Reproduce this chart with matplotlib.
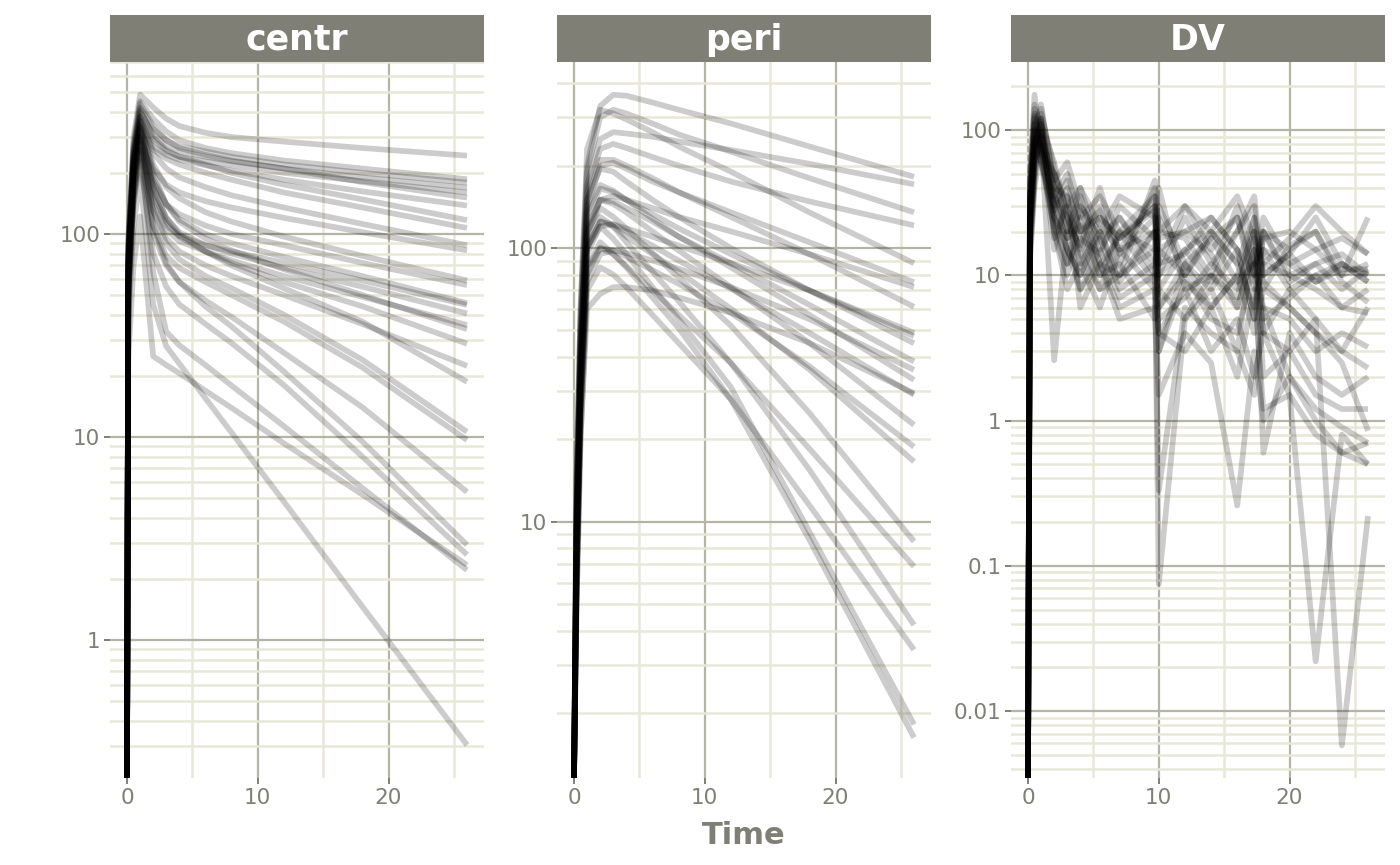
import numpy as np
import matplotlib.pyplot as plt
from matplotlib.ticker import FixedLocator, FuncFormatter, NullFormatter

# ---- data ----
centr_time = [0, 0.1, 0.5, 1, 2, 3, 4, 6, 8, 12, 18, 26]
centr_lines = [
    [0, 95, 300, 486, 420, 370, 340, 315, 300, 285, 265, 243],
    [0, 90, 280, 450, 370, 320, 290, 265, 250, 230, 210, 186],
    [0, 85, 260, 420, 330, 290, 270, 255, 240, 220, 200, 179],
    [0, 80, 250, 400, 310, 270, 255, 240, 228, 210, 190, 169],
    [0, 75, 240, 380, 290, 255, 240, 228, 218, 200, 182, 160],
    [0, 88, 270, 440, 340, 290, 265, 245, 230, 210, 180, 151],
    [0, 72, 230, 360, 270, 245, 232, 218, 205, 185, 162, 138],
    [0, 82, 250, 410, 300, 260, 240, 220, 200, 175, 148, 117],
    [0, 70, 220, 350, 260, 235, 220, 200, 185, 160, 135, 107],
    [0, 75, 240, 380, 250, 210, 190, 170, 155, 135, 112, 88],
    [0, 68, 220, 340, 210, 175, 160, 145, 135, 120, 102, 83],
    [0, 74, 230, 370, 220, 170, 150, 128, 115, 97, 78, 59],
    [0, 64, 200, 320, 180, 140, 125, 110, 100, 88, 72, 56],
    [0, 68, 210, 340, 190, 140, 118, 100, 90, 77, 62, 45.6],
    [0, 60, 190, 300, 150, 110, 98, 88, 82, 72, 59, 44.7],
    [0, 66, 200, 330, 170, 120, 102, 88, 80, 68, 55, 40.6],
    [0, 58, 180, 290, 140, 105, 92, 82, 74, 62, 49, 35.6],
    [0, 72, 220, 360, 200, 140, 115, 95, 83, 67, 50, 34],
    [0, 62, 190, 310, 160, 115, 97, 82, 72, 58, 44, 28.8],
    [0, 56, 170, 280, 130, 95, 82, 70, 62, 50, 36, 22.4],
    [0, 66, 200, 330, 170, 120, 100, 82, 70, 54, 37, 18.7],
    [0, 60, 180, 300, 130, 90, 75, 62, 54, 40, 24, 10.6],
    [0, 52, 160, 260, 110, 78, 68, 58, 50, 37, 22, 9.66],
    [0, 50, 150, 250, 100, 70, 58, 47, 39, 26, 14, 5.36],
    [0, 56, 170, 280, 110, 72, 58, 44, 35, 21, 9.5, 2.94],
    [0, 46, 140, 230, 80, 55, 45, 36, 29, 18, 8, 2.63],
    [0, 24, 70, 122, 25, 22.6, 20.6, 16.9, 13.9, 9.3, 5.2, 2.34],
    [0, 52, 150, 260, 65, 33, 28.3, 22.6, 17.9, 11.3, 5.6, 2.21],
    [0, 38, 110, 190, 45, 28, 23, 15.5, 10.5, 4.8, 1.46, 0.304],
]

peri_time = [0, 0.2, 0.5, 1, 2, 3, 4, 6, 8, 12, 18, 26]
peri_lines = [
    [0, 15, 60, 200, 330, 363, 360, 340, 320, 285, 235, 182],
    [0, 12, 50, 170, 250, 265, 262, 255, 245, 228, 203, 171],
    [0, 14, 55, 190, 300, 320, 310, 285, 260, 225, 180, 135],
    [0, 11, 45, 160, 230, 240, 232, 215, 200, 175, 148, 121],
    [0, 15, 60, 230, 320, 310, 295, 265, 235, 190, 135, 88],
    [0, 10, 40, 140, 200, 205, 195, 175, 160, 135, 105, 75],
    [0, 9, 35, 110, 150, 155, 150, 140, 130, 115, 95, 72],
    [0, 11, 45, 150, 210, 210, 200, 180, 160, 130, 95, 61],
    [0, 10, 40, 130, 165, 160, 150, 133, 118, 95, 70, 49],
    [0, 7, 30, 95, 120, 122, 118, 110, 102, 88, 70, 47.7],
    [0, 11, 45, 150, 195, 190, 175, 150, 130, 100, 70, 44.9],
    [0, 9, 35, 115, 150, 148, 140, 125, 110, 88, 62, 38.5],
    [0, 6, 25, 75, 95, 98, 96, 90, 84, 72, 55, 35.9],
    [0, 10, 40, 135, 170, 162, 150, 128, 110, 85, 57, 33],
    [0, 5, 20, 60, 68, 72, 72, 70, 66, 58, 45, 29.5],
    [0, 7, 30, 100, 125, 122, 115, 102, 90, 71, 49, 29.1],
    [0, 9, 35, 120, 150, 145, 135, 115, 98, 72, 45, 22.6],
    [0, 6, 25, 80, 100, 98, 93, 83, 74, 58, 37, 18.8],
    [0, 7, 30, 100, 125, 120, 110, 95, 82, 60, 36, 16.6],
    [0, 9, 35, 115, 140, 130, 118, 96, 78, 52, 25, 8.48],
    [0, 6, 25, 85, 100, 95, 86, 70, 57, 38, 18.5, 6.87],
    [0, 7, 30, 105, 130, 120, 105, 82, 64, 38, 15.5, 4.2],
    [0, 5, 20, 70, 85, 80, 72, 57, 45, 28, 11.5, 3.41],
    [0, 7, 30, 100, 120, 108, 95, 72, 55, 31, 9.2, 1.82],
    [0, 6, 25, 85, 105, 95, 85, 66, 51, 28, 8.6, 1.63],
]

dv_time = [0, 0.15, 0.5, 1, 2, 3, 4, 5.5, 7, 9.7, 10, 12, 14, 16, 17.3, 18, 20, 22, 24, 26]
dv_lines = [
    [0, 35, 120, 60, 30, 45, 20, 25, 18, 30, 8, 15, 20, 12, 25, 10, 14, 9, 12, 10],
    [0, 25, 90, 150, 40, 20, 35, 12, 10, 20, 3, 12, 8, 15, 5, 20, 10, 12, 8, 11],
    [0, 18, 60, 100, 25, 15, 10, 18, 25, 12, 0.075, 5, 10, 6, 15, 4, 8, 5, 3, 6],
    [0, 50, 175, 80, 50, 30, 40, 22, 15, 35, 10, 25, 12, 20, 30, 8, 16, 20, 10, 25],
    [0, 20, 70, 120, 20, 8, 12, 6, 15, 8, 0.33, 6, 4, 3, 1.5, 6, 2, 1.2, 0.9, 0.7],
    [0, 30, 100, 70, 35, 50, 25, 35, 20, 15, 25, 10, 18, 9, 12, 15, 8, 10, 12, 9],
    [0, 15, 50, 90, 2.6, 20, 8, 15, 7, 10, 4, 8, 3, 5, 2, 4, 1.5, 0.022, 0.8, 0.5],
    [0, 24, 80, 110, 60, 25, 15, 30, 12, 40, 15, 20, 25, 15, 10, 25, 12, 15, 18, 14],
    [0, 38, 130, 90, 30, 18, 22, 10, 20, 9, 30, 12, 6, 10, 20, 5, 7, 10, 6, 8],
    [0, 12, 40, 80, 15, 35, 6, 12, 5, 6, 1.5, 4, 2.5, 0.26, 3, 1, 2, 1, 0.6, 0.5],
    [0, 32, 110, 140, 45, 60, 30, 20, 35, 25, 12, 30, 15, 25, 8, 18, 20, 15, 10, 12],
    [0, 25, 85, 60, 25, 12, 18, 8, 10, 15, 6, 10, 5, 4, 12, 6, 5, 3, 4, 3.2],
    [0, 20, 65, 130, 55, 20, 40, 15, 25, 10, 20, 18, 10, 30, 12, 20, 9, 12, 14, 10],
    [0, 45, 150, 100, 35, 25, 12, 20, 9, 20, 5, 7, 12, 8, 20, 4, 3, 5, 0.0058, 0.22],
    [0, 28, 95, 75, 20, 10, 25, 10, 12, 5, 15, 10, 20, 12, 6, 12, 10, 8, 6, 5.5],
    [0, 16, 55, 95, 40, 15, 8, 12, 18, 30, 8, 5, 8, 3, 18, 2, 3, 1.5, 1.2, 1.2],
    [0, 36, 125, 85, 28, 40, 20, 28, 15, 20, 10, 15, 9, 20, 35, 10, 14, 25, 12, 9],
    [0, 22, 75, 115, 18, 30, 14, 8, 20, 35, 3, 9, 6, 10, 4, 8, 6, 4, 3, 2.3],
    [0, 30, 100, 60, 22, 12, 30, 18, 8, 12, 18, 20, 14, 6, 15, 0.6, 4, 2, 1.5, 2],
    [0, 14, 45, 110, 35, 22, 16, 40, 14, 25, 6, 12, 18, 25, 10, 20, 15, 20, 9, 6.5],
    [0, 40, 140, 70, 50, 28, 18, 14, 30, 18, 40, 8, 10, 7, 25, 9, 6, 4, 2.5, 0.85],
    [0, 24, 80, 120, 30, 15, 10, 20, 10, 45, 20, 30, 20, 35, 18, 12, 18, 30, 20, 14],
    [0, 18, 60, 90, 25, 18, 28, 12, 6, 8, 4, 3, 6, 2, 8, 1.2, 1.5, 0.8, 0.6, 0.7],
    [0, 32, 110, 80, 40, 35, 12, 25, 18, 28, 12, 14, 25, 15, 5, 15, 12, 9, 11, 11],
]

panels = ["centr", "peri", "DV"]
y_breaks = [[1, 10, 100], [10, 100], [0.01, 0.1, 1, 10, 100]]
y_limits = [(0.209, 703), (1.16, 478), (0.00346, 294)]

# ---- style ----
txt_col = "#7f7f75"
major_col = "#b5b5a7"
minor_col = "#e8e8d9"

fig = plt.figure(figsize=(14, 8.65), dpi=100)
W, H = 1400, 865
lefts = [110, 557, 1011]
pw = 374
top, bottom = 62, 778

minor_y = [m * 10.0 ** k for k in range(-4, 4) for m in range(2, 10)]

data = [(centr_time, centr_lines), (peri_time, peri_lines), (dv_time, dv_lines)]

for i, name in enumerate(panels):
    ax = fig.add_axes([lefts[i] / W, (H - bottom) / H, pw / W, (bottom - top) / H])
    ax.set_yscale("log")
    lo, hi = y_limits[i]
    t, lines = data[i]
    for vals in lines:
        v = np.asarray(vals, dtype=float)
        # zero on a log axis sits on the panel floor (like ggplot's -Inf)
        v = np.where(v > 0, v, lo)
        ax.plot(t, v, color="black", alpha=0.2, lw=4.1,
                solid_joinstyle="round", solid_capstyle="butt")
    ax.set_xlim(-1.3, 27.3)
    ax.set_ylim(lo, hi)

    ax.xaxis.set_major_locator(FixedLocator([0, 10, 20]))
    ax.xaxis.set_minor_locator(FixedLocator([5, 15, 25]))
    ax.yaxis.set_major_locator(FixedLocator(y_breaks[i]))
    ax.yaxis.set_minor_locator(FixedLocator(minor_y))
    ax.yaxis.set_major_formatter(FuncFormatter(lambda val, _: f"{val:g}"))
    ax.yaxis.set_minor_formatter(NullFormatter())

    ax.grid(which="major", color=major_col, lw=1.6)
    ax.grid(which="minor", color=minor_col, lw=1.8)
    ax.set_axisbelow(True)
    for s in ax.spines.values():
        s.set_visible(False)
    ax.tick_params(which="major", length=4, width=1.4, color=txt_col,
                   labelcolor=txt_col, labelsize=15.5, pad=3)
    ax.tick_params(which="minor", length=0)

    # facet strip
    sax = fig.add_axes([lefts[i] / W, (H - top) / H, pw / W, 47 / H])
    sax.set_facecolor(txt_col)
    sax.set_xticks([])
    sax.set_yticks([])
    for s in sax.spines.values():
        s.set_visible(False)
    sax.text(0.5, 0.47, name, color="white", fontsize=25, fontweight="bold",
             ha="center", va="center", transform=sax.transAxes)

fig.text(744 / W, 1 - 836 / H, "Time", color=txt_col, fontsize=22,
         fontweight="bold", ha="center", va="center")

fig.savefig("out.png", dpi=100, facecolor="white")
